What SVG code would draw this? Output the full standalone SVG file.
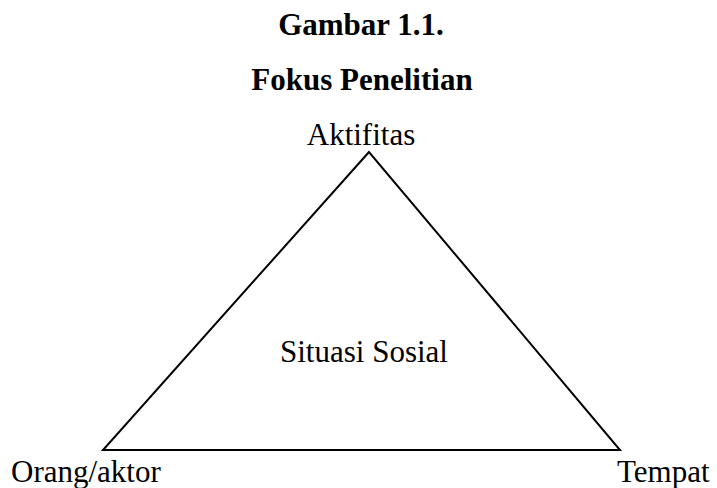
<svg xmlns="http://www.w3.org/2000/svg" width="717" height="488" viewBox="0 0 717 488">
<style>
text{font-family:"Liberation Serif","Times New Roman",serif;font-size:31px;fill:#000}
.b{font-weight:bold}
.c{text-anchor:middle}
.edge{fill:none;stroke:#000;stroke-width:2}
</style>
<rect width="717" height="488" fill="#fff"/>
<g id="title">
<text class="b c" x="361" y="35">Gambar 1.1.</text>
<text class="b c" x="362" y="90">Fokus Penelitian</text>
</g>
<g id="connectors">
<polygon class="edge" points="369,152 103,450 620,450"/>
</g>
<g id="aktifitas"><text class="c" x="361" y="145">Aktifitas</text></g>
<g id="situasi"><text class="c" x="364" y="362">Situasi Sosial</text></g>
<g id="orang"><text x="11" y="482">Orang/aktor</text></g>
<g id="tempat"><text x="617" y="482">Tempat</text></g>
</svg>
